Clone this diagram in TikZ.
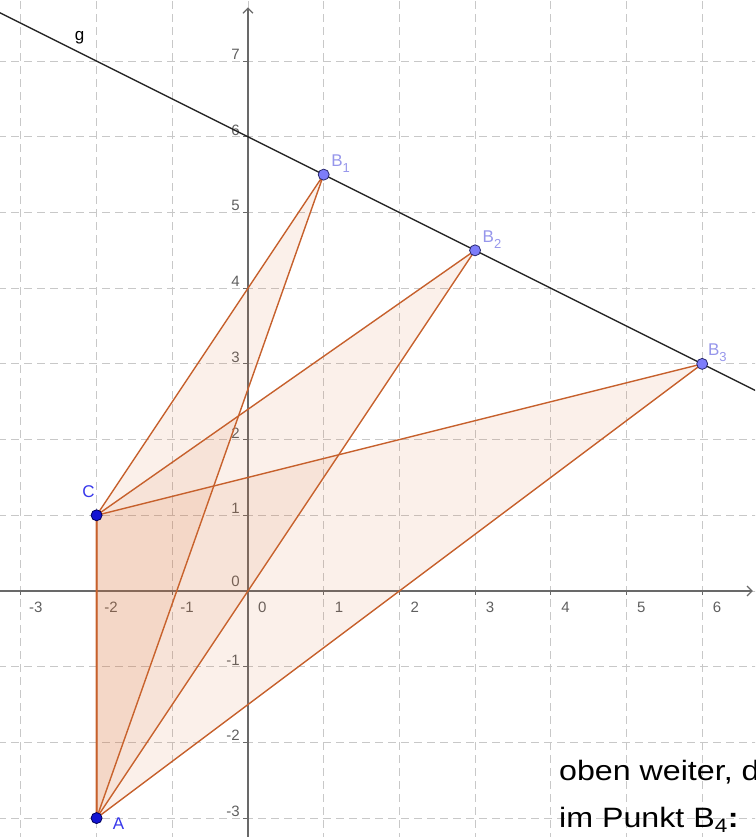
\documentclass[tikz,border=0pt]{standalone}
\usepackage{fontspec}
\setmainfont{Liberation Sans}
\newfontfamily\widefont[FakeStretch=1.15]{Liberation Sans}
\usetikzlibrary{arrows.meta}
\definecolor{gridc}{RGB}{200,200,200}
\definecolor{axisc}{RGB}{105,105,105}
\definecolor{numc}{RGB}{95,95,95}
\definecolor{edgec}{RGB}{198,96,44}
\definecolor{fillc}{RGB}{215,110,50}
\definecolor{ptdark}{RGB}{20,20,210}
\definecolor{ptdarkline}{RGB}{0,0,90}
\definecolor{ptlight}{RGB}{125,125,250}
\definecolor{ptlightline}{RGB}{40,40,110}
\definecolor{lbldark}{RGB}{55,55,235}
\definecolor{lbllight}{RGB}{150,150,235}
\definecolor{glinec}{RGB}{35,35,35}
\begin{document}
\begin{tikzpicture}[x=75.7pt,y=75.7pt,
  gridline/.style={gridc, line width=0.8pt, dash pattern=on 8pt off 5pt},
  axisline/.style={axisc, line width=1.3pt},
  tickline/.style={axisc, line width=1pt},
  numlbl/.style={text=numc, font=\fontsize{15}{15}\selectfont, inner sep=0pt},
  tri/.style={fill=fillc, fill opacity=0.1, draw=edgec, line width=1.4pt, line join=round},
  gline/.style={glinec, line width=1.3pt},
  darkpt/.style={circle, fill=ptdark, draw=ptdarkline, line width=0.8pt, minimum size=11pt, inner sep=0pt},
  lightpt/.style={circle, fill=ptlight, draw=ptlightline, line width=0.8pt, minimum size=11pt, inner sep=0pt},
  darklbl/.style={text=lbldark, font=\fontsize{17}{17}\selectfont, inner sep=0pt},
  lightlbl/.style={text=lbllight, font=\fontsize{17}{17}\selectfont, inner sep=0pt, anchor=base west},
  bigtext/.style={text=black, font=\widefont\fontsize{28}{28}\selectfont, inner sep=0pt, anchor=base west}
]
\clip (-3.276,-3.25) rectangle (6.698,7.807);
% grid
\foreach \i in {-3,...,6} \draw[gridline] (\i,-3.3) -- (\i,7.9);
\foreach \j in {-3,...,7} \draw[gridline] (-3.3,\j) -- (6.8,\j);
% axes
\coordinate (xa0) at (-3.3,0);
\coordinate (xa1) at (6.671,0);
\coordinate (ya0) at (0,-3.3);
\coordinate (ya1) at (0,7.71);
\draw[axisline,-{Straight Barb[length=5pt,width=10pt]}] (xa0) -- (xa1);
\draw[axisline,-{Straight Barb[length=5pt,width=10pt]}] (ya0) -- (ya1);
\foreach \i in {-3,...,6} \draw[tickline] (\i,0) -- ++(0,-4.5pt);
\foreach \j in {-3,...,7} \draw[tickline] (0,\j) -- ++(-4.5pt,0);
% axis numbers
\foreach \i/\s in {-3/8,-2/7.5,-1/8,0/10,1/11,2/11,3/10.5,4/10.5,5/10.5,6/10.5}
  \node[numlbl, anchor=base west] (nx\i) at ([xshift=\s pt,yshift=-21.5pt]\i,0) {\i};
\foreach \j in {-3,-2,-1,1,2,3,4,5,6,7}
  \node[numlbl, anchor=base east] (ny\j) at ([xshift=-8pt,yshift=1.5pt]0,\j) {\j};
\node[numlbl, anchor=base east] (ny0) at ([xshift=-8pt,yshift=4pt]0,0) {0};
% points
\coordinate (pA) at (-2,-3);
\coordinate (pC) at (-2,1);
\coordinate (pB1) at (1,5.5);
\coordinate (pB2) at (3,4.5);
\coordinate (pB3) at (6,3);
% line g
\coordinate (g1) at (-3.3,7.65);
\coordinate (g2) at (6.75,2.625);
\draw[gline] (g1) -- (g2);
\node[text=black, font=\fontsize{17}{17}\selectfont, inner sep=0pt, anchor=base west] (glbl) at (-2.29,7.266) {g};
% triangles
\draw[tri] (pA) -- (pC) -- (pB1) -- cycle;
\draw[tri] (pA) -- (pC) -- (pB2) -- cycle;
\draw[tri] (pA) -- (pC) -- (pB3) -- cycle;
% point marks
\node[darkpt] (A) at (pA) {};
\node[darkpt] (C) at (pC) {};
\node[lightpt] (B1) at (pB1) {};
\node[lightpt] (B2) at (pB2) {};
\node[lightpt] (B3) at (pB3) {};
% labels
\node[darklbl] (lA) at ([xshift=22pt,yshift=-6pt]pA) {A};
\node[darklbl] (lC) at ([xshift=-8pt,yshift=24pt]pC) {C};
\node[lightlbl] (lB1) at ([xshift=7.4pt,yshift=8.3pt]pB1) {B\raisebox{-6pt}{\fontsize{13}{13}\selectfont 1}};
\node[lightlbl] (lB2) at ([xshift=7.4pt,yshift=7.6pt]pB2) {B\raisebox{-6pt}{\fontsize{13}{13}\selectfont 2}};
\node[lightlbl] (lB3) at ([xshift=5.7pt,yshift=8.3pt]pB3) {B\raisebox{-6pt}{\fontsize{13}{13}\selectfont 3}};
% text
\node[bigtext] (t1) at (4.108,-2.497) {oben weiter, d};
\node[bigtext] (t2) at (4.108,-3.131) {im Punkt B\textsubscript{4}\textbf{:}};
\end{tikzpicture}
\end{document}
